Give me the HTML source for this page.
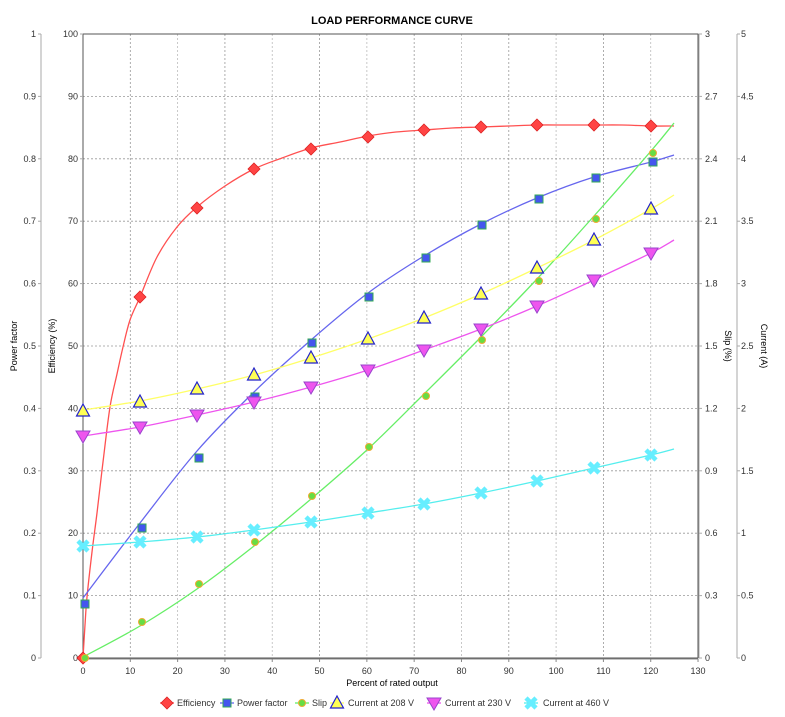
<!DOCTYPE html>
<html><head><meta charset="utf-8">
<style>
html,body{margin:0;padding:0;background:#fff;}
svg{display:block;font-family:"Liberation Sans","DejaVu Sans",sans-serif;}
</style></head>
<body>
<svg id="s" width="785" height="717" viewBox="0 0 785 717" xmlns="http://www.w3.org/2000/svg">
<rect width="785" height="717" fill="#fff"/>
<text x="392" y="24" text-anchor="middle" font-size="11" font-weight="bold" fill="#000">LOAD PERFORMANCE CURVE</text>
<g id="grid"></g>
<rect x="83" y="34" width="615" height="624" fill="none" stroke="#555" stroke-width="1"/>
<g id="axes" font-size="9" fill="#333"></g>
<g id="series"></g>
<text x="392" y="686" text-anchor="middle" font-size="9" fill="#000">Percent of rated output</text>
<text transform="translate(17,346) rotate(-90)" text-anchor="middle" font-size="9" fill="#000">Power factor</text>
<text transform="translate(55,346) rotate(-90)" text-anchor="middle" font-size="9" fill="#000">Efficiency (%)</text>
<text transform="translate(725,346) rotate(90)" text-anchor="middle" font-size="9" fill="#000">Slip (%)</text>
<text transform="translate(761,346) rotate(90)" text-anchor="middle" font-size="9" fill="#000">Current (A)</text>
<g id="legend" font-size="9" fill="#333"></g>
</svg>
<script>
const NS="http://www.w3.org/2000/svg";
function el(p,t,a,txt){const e=document.createElementNS(NS,t);for(const k in a)e.setAttribute(k,a[k]);if(txt!==undefined)e.textContent=txt;document.getElementById(p).appendChild(e);return e;}
const X=v=>83+v*4.731, Y=e=>658-e*6.24;
for(let i=1;i<13;i++){const x=X(i*10);el('grid','line',{x1:x,y1:34,x2:x,y2:658,stroke:i%2?'#999':'#bbb','stroke-width':0.8,'stroke-dasharray':'2,2'});}
for(let i=1;i<10;i++){const y=Y(i*10);el('grid','line',{x1:83,y1:y,x2:698,y2:y,stroke:'#999','stroke-width':0.8,'stroke-dasharray':'2,2'});}
el('axes','line',{x1:41,y1:34,x2:41,y2:658,stroke:'#aaa'});
el('axes','line',{x1:699,y1:34,x2:699,y2:658,stroke:'#aaa'});
el('axes','line',{x1:737,y1:34,x2:737,y2:658,stroke:'#aaa'});
el('axes','line',{x1:83,y1:659,x2:698,y2:659,stroke:'#888'});
const pf=['0','0.1','0.2','0.3','0.4','0.5','0.6','0.7','0.8','0.9','1'];
const sl=['0','0.3','0.6','0.9','1.2','1.5','1.8','2.1','2.4','2.7','3'];
const cu=['0','0.5','1','1.5','2','2.5','3','3.5','4','4.5','5'];
for(let i=0;i<=10;i++){const y=Y(i*10);
el('axes','text',{x:36,y:y+3,'text-anchor':'end'},pf[i]);
el('axes','line',{x1:38,y1:y,x2:41,y2:y,stroke:'#aaa'});
el('axes','text',{x:78,y:y+3,'text-anchor':'end'},String(i*10));
el('axes','line',{x1:80,y1:y,x2:83,y2:y,stroke:'#aaa'});
el('axes','text',{x:705,y:y+3},sl[i]);
el('axes','line',{x1:699,y1:y,x2:702,y2:y,stroke:'#aaa'});
el('axes','text',{x:741,y:y+3},cu[i]);
el('axes','line',{x1:737,y1:y,x2:740,y2:y,stroke:'#aaa'});}
for(let i=0;i<=13;i++){const x=X(i*10);el('axes','text',{x:x,y:674,'text-anchor':'middle'},String(i*10));el('axes','line',{x1:x,y1:659,x2:x,y2:662,stroke:'#888'});}
function path(pts){let d='M'+pts[0][0]+','+pts[0][1];for(let i=0;i<pts.length-1;i++){const p0=pts[i-1]||pts[i],p1=pts[i],p2=pts[i+1],p3=pts[i+2]||p2;
d+=` C${p1[0]+(p2[0]-p0[0])/6},${p1[1]+(p2[1]-p0[1])/6} ${p2[0]-(p3[0]-p1[0])/6},${p2[1]-(p3[1]-p1[1])/6} ${p2[0]},${p2[1]}`;}return d;}
const xs=[83,140,197,254,311,368,424,481,537,594,651];
const S=[
{c:'#ff5050',line:[[83,658],[85,625],[87,597],[92,552],[97,513],[103,462],[110,407],[117,374],[123,347],[130,320],[140,297],[157,257],[177,227],[197,207],[225,186],[254,169],[282,158],[311,148],[340,142],[368,136],[396,132],[424,130],[452,128],[481,127],[509,126],[537,125],[566,125],[594,125],[622,125],[651,126],[674,126]],
 m:[[83,658],[140,297],[197,208],[254,169],[311,149],[368,137],[424,130],[481,127],[537,125],[594,125],[651,126]],t:'dia',f:'#ff4444',st:'#dd2222'},
{c:'#6666ee',line:[[83,598],[140,523],[197,451],[254,392],[311,340],[368,293],[424,256],[481,224],[537,198],[594,177],[651,162],[674,155]],
 m:[[85,604],[142,528],[199,458],[255,397],[312,343],[369,297],[426,258],[482,225],[539,199],[596,178],[653,162]],t:'sq',f:'#4455ee',st:'#33aa55'},
{c:'#66ee66',line:[[83,657],[140,626],[197,589],[254,546],[311,499],[368,449],[424,394],[481,337],[537,279],[594,216],[651,151],[674,123]],
 m:[[85,658],[142,622],[199,584],[255,542],[312,496],[369,447],[426,396],[482,340],[539,281],[596,219],[653,153]],t:'ci',f:'#66dd44',st:'#eeaa33'},
{c:'#ffff66',line:[[83,410],[140,401],[197,389],[254,375],[311,358],[368,339],[424,318],[481,294],[537,268],[594,240],[651,209],[674,195]],
 m:xs.map((x,i)=>[x,[411,402,389,375,358,339,318,294,268,240,209][i]]),t:'tu',f:'#ffff55',st:'#2222cc'},
{c:'#ee55ee',line:[[83,436],[140,427],[197,415],[254,402],[311,387],[368,370],[424,350],[481,329],[537,306],[594,280],[651,253],[674,240]],
 m:xs.map((x,i)=>[x,[436,427,415,402,387,370,350,329,306,280,253][i]]),t:'td',f:'#ee55ee',st:'#9944cc'},
{c:'#55eeee',line:[[83,546],[140,542],[197,537],[254,530],[311,522],[368,513],[424,504],[481,493],[537,481],[594,468],[651,455],[674,449]],
 m:xs.map((x,i)=>[x,[546,542,537,530,522,513,504,493,481,468,455][i]]),t:'x',f:'#66eeff',st:'#66eeff'}];
function mark(g,t,x,y,f,st){
if(t=='dia')el(g,'polygon',{points:`${x},${y-6} ${x+6},${y} ${x},${y+6} ${x-6},${y}`,fill:f,stroke:st,'stroke-width':0.8});
if(t=='sq')el(g,'rect',{x:x-4,y:y-4,width:8,height:8,fill:f,stroke:st,'stroke-width':1});
if(t=='ci')el(g,'circle',{cx:x,cy:y,r:3.5,fill:f,stroke:st,'stroke-width':1});
if(t=='tu')el(g,'polygon',{points:`${x},${y-7} ${x+6.5},${y+5} ${x-6.5},${y+5}`,fill:f,stroke:st,'stroke-width':1.2});
if(t=='td')el(g,'polygon',{points:`${x-7},${y-5} ${x+7},${y-5} ${x},${y+7}`,fill:f,stroke:st,'stroke-width':1});
if(t=='x'){el(g,'line',{x1:x-5,y1:y-5,x2:x+5,y2:y+5,stroke:f,'stroke-width':4.5});el(g,'line',{x1:x-5,y1:y+5,x2:x+5,y2:y-5,stroke:f,'stroke-width':4.5});}}
S.forEach(s=>{el('series','path',{d:path(s.line),fill:'none',stroke:s.c,'stroke-width':1.3});});
S.forEach(s=>{s.m.forEach(p=>mark('series',s.t,p[0],p[1],s.f,s.st));});
const L=[['Efficiency',167,175],['Power factor',227,235],['Slip',302,310],['Current at 208 V',337,346],['Current at 230 V',434,443],['Current at 460 V',531,541]];
L.forEach((l,i)=>{const s=S[i],y=703;el('legend','line',{x1:l[1]-7,y1:y,x2:l[1]+7,y2:y,stroke:s.c,'stroke-width':1.3});mark('legend',s.t,l[1],y,s.f,s.st);el('legend','text',{x:l[2]+2,y:y+3},l[0]);});
</script>
</body></html>
